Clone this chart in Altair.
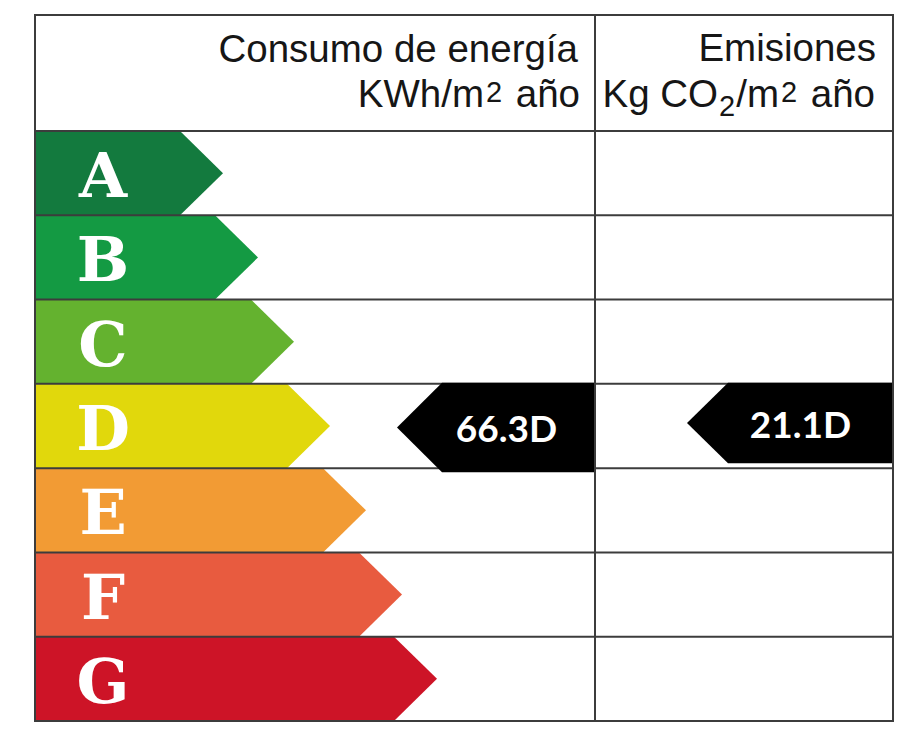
import altair as alt
import pandas as pd

# ---------------- data ----------------
letters = ["A", "B", "C", "D", "E", "F", "G"]
colors = ["#137a3e", "#149a43", "#64b22f", "#e1d80c", "#f29b34", "#e85b3f", "#cd1427"]
band_body = [145, 180, 216, 252, 288, 324, 359]   # body length of each class band
band_tip = 43                                        # arrow-head length of class bands

col_titles = ["Consumo de energía", "Emisiones"]
result_labels = ["66.3D", "21.1D"]
result_class = ["D", "D"]
result_len = [197, 205]      # total arrow length
result_head = [45, 41]       # head length
result_pad_top = [1, 1]
result_pad_bot = [4, -5]

# ---------------- layout ----------------
W, H = 858, 706
HEAD = 116
ROW = (H - HEAD) / 7
DIV = 560
col_right = [DIV - 1, W - 1]

# Arial advance widths (per 1000 em) for header pieces
AW = {"K": 667, "W": 944, "h": 556, "/": 278, "m": 833, "2": 556, " ": 278,
      "a": 556, "ñ": 556, "o": 556, "g": 556, "C": 722, "O": 778}


def tw(s, size):
    return sum(AW[c] for c in s) * size / 1000.0


# coloured class bands
band_rows = []
for i, (L, b, c) in enumerate(zip(letters, band_body, colors)):
    top = HEAD + i * ROW
    bot = top + ROW
    mid = (top + bot) / 2
    band_rows += [
        dict(letter=L, fill=c, x=0, y=top, y2=bot),
        dict(letter=L, fill=c, x=b, y=top, y2=bot),
        dict(letter=L, fill=c, x=b + band_tip, y=mid, y2=mid),
    ]
bands = pd.DataFrame(band_rows)

letter_df = pd.DataFrame(
    dict(letter=letters, x=[68] * 7, y=[HEAD + (i + 0.5) * ROW + 24 for i in range(7)])
)

# result arrows
res_rows = []
res_text = []
for k, (lab, cls) in enumerate(zip(result_labels, result_class)):
    i = letters.index(cls)
    top = HEAD + i * ROW - result_pad_top[k]
    bot = HEAD + (i + 1) * ROW + result_pad_bot[k]
    mid = (top + bot) / 2
    right = col_right[k]
    tip = right - result_len[k]
    body = tip + result_head[k]
    res_rows += [
        dict(r=lab, x=tip, y=mid, y2=mid),
        dict(r=lab, x=body, y=top, y2=bot),
        dict(r=lab, x=right, y=top, y2=bot),
    ]
    res_text.append(dict(text=lab, x=(tip + right) / 2 + 11, y=mid + 14.5))
results = pd.DataFrame(res_rows)
results_txt = pd.DataFrame(res_text)

# grid rules
rule_rows = [dict(x=0, x2=W, y=0, y2=0), dict(x=0, x2=W, y=H, y2=H)]
for k in range(7):
    yy = HEAD + k * ROW
    rule_rows.append(dict(x=0, x2=W, y=yy, y2=yy))
for xx in [0, DIV, W]:
    rule_rows.append(dict(x=xx, x2=xx, y=0, y2=H))
rules = pd.DataFrame(rule_rows)

# header texts (pieces right-aligned per column)
MAIN, SUP, SUB = 38.5, 29, 29
head_rows = []
head_right = [545, 840]
head_rows.append(dict(text=col_titles[0], x=543, y=47, size=MAIN, align="right"))
head_rows.append(dict(text=col_titles[1], x=841, y=46, size=MAIN, align="right"))
# (text, size, baseline offset, leading gap)
line2 = [
    [("KWh/m", MAIN, 0, 0), ("2", SUP, -5, 2), ("año", MAIN, 0, tw(" ", MAIN) + 3)],
    [("Kg", MAIN, 0, 0), ("CO", MAIN, 0, tw(" ", MAIN)), ("2", SUB, 9, 1), ("/m", MAIN, 0, 1),
     ("2", SUP, -5, 2), ("año", MAIN, 0, tw(" ", MAIN) + 3)],
]
for c, pieces in enumerate(line2):
    total = sum(tw(s, sz) + g for s, sz, _, g in pieces)
    xcur = head_right[c] - total
    for s, sz, off, g in pieces:
        xcur += g
        head_rows.append(dict(text=s, x=xcur, y=92 + off, size=sz, align="left"))
        xcur += tw(s, sz)
heads = pd.DataFrame(head_rows)

# ---------------- chart ----------------
xs = alt.Scale(domain=[0, W], nice=False, zero=False)
ys = alt.Scale(domain=[0, H], nice=False, zero=False, reverse=True)

band_layer = alt.Chart(bands).mark_area(orient="vertical", interpolate="linear", opacity=1).encode(
    x=alt.X("x:Q", scale=xs, axis=None),
    y=alt.Y("y:Q", scale=ys, axis=None, stack=None),
    y2="y2:Q",
    detail="letter:N",
    fill=alt.Fill("fill:N", scale=None),
)

letter_layer = alt.Chart(letter_df).mark_text(
    font="DejaVu Serif", fontWeight="bold", fontSize=62, color="white",
    align="center", baseline="alphabetic"
).encode(x=alt.X("x:Q", scale=xs), y=alt.Y("y:Q", scale=ys), text="letter:N")

rule_layer = alt.Chart(rules).mark_rule(color="#3c3c3c", strokeWidth=2, strokeCap="square").encode(
    x=alt.X("x:Q", scale=xs), x2="x2:Q", y=alt.Y("y:Q", scale=ys), y2="y2:Q"
)

res_layer = alt.Chart(results).mark_area(orient="vertical", interpolate="linear", color="black", opacity=1).encode(
    x=alt.X("x:Q", scale=xs),
    y=alt.Y("y:Q", scale=ys, stack=None),
    y2="y2:Q",
    detail="r:N",
)

res_txt_layer = alt.Chart(results_txt).mark_text(
    font="Lato", fontWeight="bold", fontSize=37, color="white",
    align="center", baseline="alphabetic"
).encode(x=alt.X("x:Q", scale=xs), y=alt.Y("y:Q", scale=ys), text="text:N")

head_r = alt.Chart(heads[heads["align"] == "right"]).mark_text(
    font="Liberation Sans", color="#161616", align="right", baseline="alphabetic"
).encode(
    x=alt.X("x:Q", scale=xs), y=alt.Y("y:Q", scale=ys), text="text:N",
    size=alt.Size("size:Q", scale=None),
)
head_l = alt.Chart(heads[heads["align"] == "left"]).mark_text(
    font="Liberation Sans", color="#161616", align="left", baseline="alphabetic"
).encode(
    x=alt.X("x:Q", scale=xs), y=alt.Y("y:Q", scale=ys), text="text:N",
    size=alt.Size("size:Q", scale=None),
)

chart = alt.layer(
    band_layer, letter_layer, rule_layer, res_layer, res_txt_layer, head_r, head_l
).properties(
    width=W, height=H,
    autosize=alt.AutoSizeParams(type="none"),
    padding={"left": 27, "top": 7, "right": 20, "bottom": 20},
    background="white",
).configure_view(stroke=None)

chart.save("out.html", embed_options={"renderer": "svg", "actions": False})
